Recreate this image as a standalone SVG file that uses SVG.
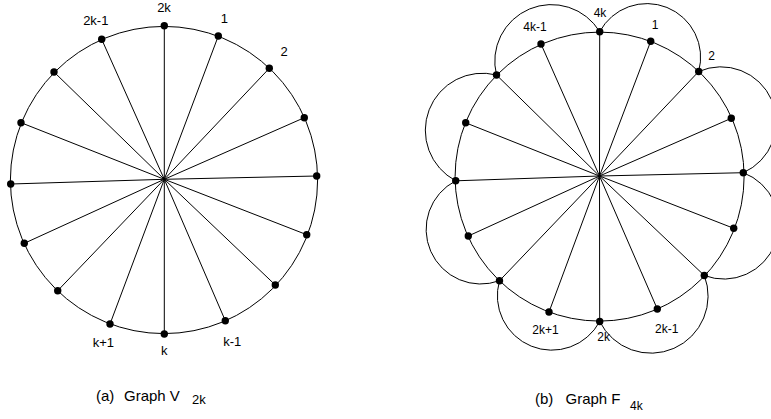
<svg xmlns="http://www.w3.org/2000/svg" width="771" height="419" viewBox="0 0 771 419">
<style>
.ln{fill:none;stroke:#000;stroke-width:1}
.nd{fill:#000}
.lbl{font-family:"Liberation Sans",Arial,sans-serif;fill:#000;text-anchor:middle}
.la{font-size:13px}
.lb{font-size:12px}
.cap{font-family:"Liberation Sans",Arial,sans-serif;fill:#000;font-size:15px}
</style>
<rect width="771" height="419" fill="#fff"/>
<g id="connectors">
<circle class="ln" cx="164" cy="180" r="153.6"/>
<path class="ln" d="M164.3 179.3L164.3 25.7M164.3 179.3L218.3 36M164.3 179.3L269.3 68.3M164.3 179.3L304.3 117.7M164.3 179.3L316.7 176M164.3 179.3L306.7 234.7M164.3 179.3L275.3 285M164.3 179.3L225.3 320.7M164.3 179.3L164.3 334M164.3 179.3L110 324M164.3 179.3L57.7 290.7M164.3 179.3L24.3 243.3M164.3 179.3L10.7 184M164.3 179.3L21 122.7M164.3 179.3L54 72M164.3 179.3L101.7 39.3"/>
<circle class="ln" cx="599.6" cy="176.6" r="144.5"/>
<path class="ln" d="M599.5 176L599.7 31.7M599.5 176L650.7 41.3M599.5 176L698.7 71.5M599.5 176L731.3 118.3M599.5 176L743.3 172.7M599.5 176L733.7 228.3M599.5 176L704.3 275.5M599.5 176L657.3 309M599.5 176L599.7 321.5M599.5 176L549 312M599.5 176L499.5 280.7M599.5 176L468.3 236M599.5 176L455.7 180.8M599.5 176L465.7 122.8M599.5 176L496.5 75M599.5 176L541 44"/>
<path class="ln" d="M599.7 31.7A53.7 53.7 0 0 1 698.7 71.5"/>
<path class="ln" d="M698.7 71.5A55.2 55.2 0 0 1 743.3 172.7"/>
<path class="ln" d="M743.3 172.7A54.95 54.95 0 0 1 704.3 275.5"/>
<path class="ln" d="M704.3 275.5A57.2 57.2 0 0 1 599.7 321.5"/>
<path class="ln" d="M599.7 321.5A54.4 54.4 0 0 1 499.5 280.7"/>
<path class="ln" d="M499.5 280.7A54.65 54.65 0 0 1 455.7 180.8"/>
<path class="ln" d="M455.7 180.8A57.1 57.1 0 0 1 496.5 75"/>
<path class="ln" d="M496.5 75A56.6 56.6 0 0 1 599.7 31.7"/>
</g>
<g id="graphV">
<g id="v2k"><circle class="nd" cx="164.3" cy="25.7" r="3.7"/><text class="lbl la" x="164" y="11.5">2k</text></g>
<g id="v1"><circle class="nd" cx="218.3" cy="36" r="3.7"/><text class="lbl la" x="224.3" y="23.3">1</text></g>
<g id="v2"><circle class="nd" cx="269.3" cy="68.3" r="3.7"/><text class="lbl la" x="284" y="56">2</text></g>
<g id="v3"><circle class="nd" cx="304.3" cy="117.7" r="3.7"/></g>
<g id="v4"><circle class="nd" cx="316.7" cy="176" r="3.7"/></g>
<g id="v5"><circle class="nd" cx="306.7" cy="234.7" r="3.7"/></g>
<g id="v6"><circle class="nd" cx="275.3" cy="285" r="3.7"/></g>
<g id="vkm1"><circle class="nd" cx="225.3" cy="320.7" r="3.7"/><text class="lbl la" x="232.3" y="346">k-1</text></g>
<g id="vk"><circle class="nd" cx="164.3" cy="334" r="3.7"/><text class="lbl la" x="164.3" y="355">k</text></g>
<g id="vkp1"><circle class="nd" cx="110" cy="324" r="3.7"/><text class="lbl la" x="103.3" y="347">k+1</text></g>
<g id="v10"><circle class="nd" cx="57.7" cy="290.7" r="3.7"/></g>
<g id="v11"><circle class="nd" cx="24.3" cy="243.3" r="3.7"/></g>
<g id="v12"><circle class="nd" cx="10.7" cy="184" r="3.7"/></g>
<g id="v13"><circle class="nd" cx="21" cy="122.7" r="3.7"/></g>
<g id="v14"><circle class="nd" cx="54" cy="72" r="3.7"/></g>
<g id="v2km1"><circle class="nd" cx="101.7" cy="39.3" r="3.7"/><text class="lbl la" x="95.8" y="25">2k-1</text></g>
</g>
<g id="graphF">
<g id="f4k"><circle class="nd" cx="599.7" cy="31.7" r="3.7"/><text class="lbl lb" x="600" y="17.3">4k</text></g>
<g id="f1"><circle class="nd" cx="650.7" cy="41.3" r="3.7"/><text class="lbl lb" x="655" y="29">1</text></g>
<g id="f2"><circle class="nd" cx="698.7" cy="71.5" r="3.7"/><text class="lbl lb" x="711.7" y="60">2</text></g>
<g id="f3"><circle class="nd" cx="731.3" cy="118.3" r="3.7"/></g>
<g id="f4"><circle class="nd" cx="743.3" cy="172.7" r="3.7"/></g>
<g id="f5"><circle class="nd" cx="733.7" cy="228.3" r="3.7"/></g>
<g id="f6"><circle class="nd" cx="704.3" cy="275.5" r="3.7"/></g>
<g id="f2km1"><circle class="nd" cx="657.3" cy="309" r="3.7"/><text class="lbl lb" x="666.7" y="332.7">2k-1</text></g>
<g id="f2k"><circle class="nd" cx="599.7" cy="321.5" r="3.7"/><text class="lbl lb" x="603.7" y="341">2k</text></g>
<g id="f2kp1"><circle class="nd" cx="549" cy="312" r="3.7"/><text class="lbl lb" x="545.5" y="334">2k+1</text></g>
<g id="f10"><circle class="nd" cx="499.5" cy="280.7" r="3.7"/></g>
<g id="f11"><circle class="nd" cx="468.3" cy="236" r="3.7"/></g>
<g id="f12"><circle class="nd" cx="455.7" cy="180.8" r="3.7"/></g>
<g id="f13"><circle class="nd" cx="465.7" cy="122.8" r="3.7"/></g>
<g id="f14"><circle class="nd" cx="496.5" cy="75" r="3.7"/></g>
<g id="f4km1"><circle class="nd" cx="541" cy="44" r="3.7"/><text class="lbl lb" x="535" y="31">4k-1</text></g>
</g>
<g id="captions">
<text class="cap" y="401"><tspan x="96">(a)</tspan><tspan x="124">Graph V</tspan><tspan x="192" y="404" font-size="13">2k</tspan></text>
<text class="cap" y="404" font-size="16"><tspan x="535">(b)</tspan><tspan x="565.5">Graph F</tspan><tspan x="630" y="410" font-size="12">4k</tspan></text>
</g>
</svg>
